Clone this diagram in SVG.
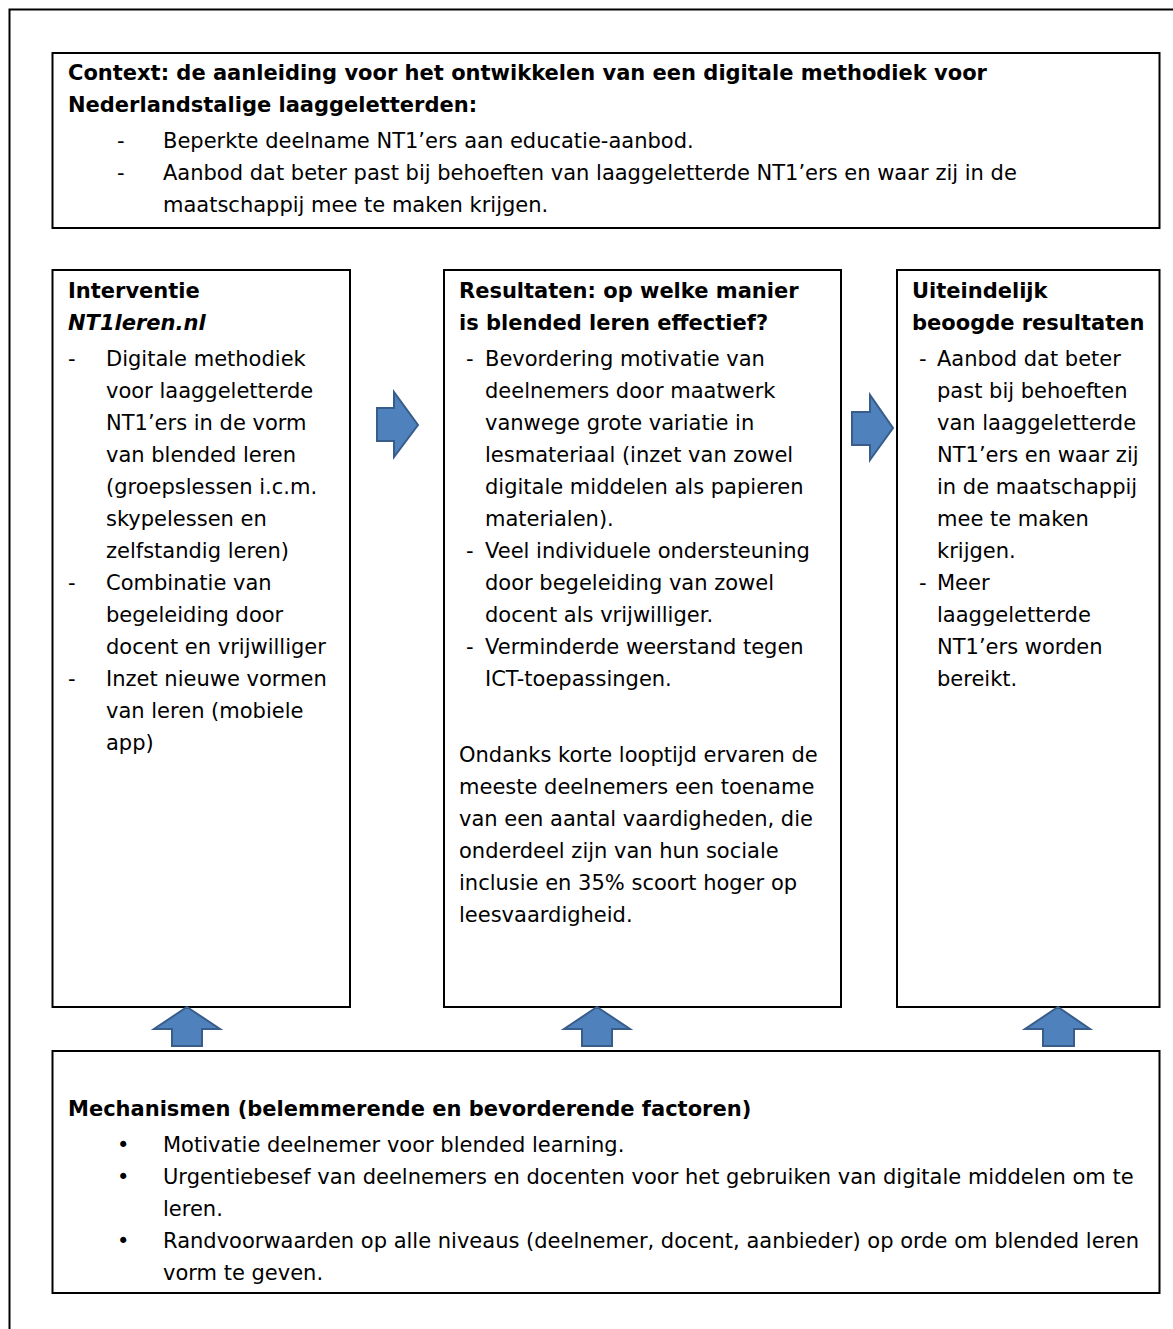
<svg xmlns="http://www.w3.org/2000/svg" width="1173" height="1329" viewBox="0 0 1173 1329">
<style>
text{font-family:"DejaVu Sans","Liberation Sans",sans-serif;font-size:21px;fill:#000}
.b{font-weight:bold}
.bi{font-weight:bold;font-style:italic}
.box{fill:#fff;stroke:#000;stroke-width:2}
.arr{fill:#4f81bd;stroke:#385d8a;stroke-width:2;stroke-linejoin:miter}
</style>
<rect x="0" y="0" width="1173" height="1329" fill="#fff"/>
<rect x="9.5" y="9.5" width="1180" height="1340" fill="none" stroke="#000" stroke-width="2"/>

<g id="context">
<rect class="box" x="52.5" y="53" width="1107" height="175"/>
<text class="b" x="68" y="80">Context: de aanleiding voor het ontwikkelen van een digitale methodiek voor</text>
<text class="b" x="68" y="112">Nederlandstalige laaggeletterden:</text>
<text x="117" y="148">-</text><text x="163" y="148">Beperkte deelname NT1’ers aan educatie-aanbod.</text>
<text x="117" y="180">-</text><text x="163" y="180">Aanbod dat beter past bij behoeften van laaggeletterde NT1’ers en waar zij in de</text>
<text x="163" y="212">maatschappij mee te maken krijgen.</text>
</g>

<g id="interventie">
<rect class="box" x="52.5" y="270" width="297.5" height="737"/>
<text class="b" x="68" y="298">Interventie</text>
<text class="bi" x="68" y="330">NT1leren.nl</text>
<text x="68" y="366">-</text><text x="106" y="366">Digitale methodiek</text>
<text x="106" y="398">voor laaggeletterde</text>
<text x="106" y="430">NT1’ers in de vorm</text>
<text x="106" y="462">van blended leren</text>
<text x="106" y="494">(groepslessen i.c.m.</text>
<text x="106" y="526">skypelessen en</text>
<text x="106" y="558">zelfstandig leren)</text>
<text x="68" y="590">-</text><text x="106" y="590">Combinatie van</text>
<text x="106" y="622">begeleiding door</text>
<text x="106" y="654">docent en vrijwilliger</text>
<text x="68" y="686">-</text><text x="106" y="686">Inzet nieuwe vormen</text>
<text x="106" y="718">van leren (mobiele</text>
<text x="106" y="750">app)</text>
</g>

<g id="resultaten">
<rect class="box" x="444" y="270" width="397" height="737"/>
<text class="b" x="459" y="298">Resultaten: op welke manier</text>
<text class="b" x="459" y="330">is blended leren effectief?</text>
<text x="466" y="366">-</text><text x="485" y="366">Bevordering motivatie van</text>
<text x="485" y="398">deelnemers door maatwerk</text>
<text x="485" y="430">vanwege grote variatie in</text>
<text x="485" y="462">lesmateriaal (inzet van zowel</text>
<text x="485" y="494">digitale middelen als papieren</text>
<text x="485" y="526">materialen).</text>
<text x="466" y="558">-</text><text x="485" y="558">Veel individuele ondersteuning</text>
<text x="485" y="590">door begeleiding van zowel</text>
<text x="485" y="622">docent als vrijwilliger.</text>
<text x="466" y="654">-</text><text x="485" y="654">Verminderde weerstand tegen</text>
<text x="485" y="686">ICT-toepassingen.</text>
<text x="459" y="762">Ondanks korte looptijd ervaren de</text>
<text x="459" y="794">meeste deelnemers een toename</text>
<text x="459" y="826">van een aantal vaardigheden, die</text>
<text x="459" y="858">onderdeel zijn van hun sociale</text>
<text x="459" y="890">inclusie en 35% scoort hoger op</text>
<text x="459" y="922">leesvaardigheid.</text>
</g>

<g id="uiteindelijk">
<rect class="box" x="897" y="270" width="262.5" height="737"/>
<text class="b" x="912" y="298">Uiteindelijk</text>
<text class="b" x="912" y="330">beoogde resultaten</text>
<text x="919" y="366">-</text><text x="937" y="366">Aanbod dat beter</text>
<text x="937" y="398">past bij behoeften</text>
<text x="937" y="430">van laaggeletterde</text>
<text x="937" y="462">NT1’ers en waar zij</text>
<text x="937" y="494">in de maatschappij</text>
<text x="937" y="526">mee te maken</text>
<text x="937" y="558">krijgen.</text>
<text x="919" y="590">-</text><text x="937" y="590">Meer</text>
<text x="937" y="622">laaggeletterde</text>
<text x="937" y="654">NT1’ers worden</text>
<text x="937" y="686">bereikt.</text>
</g>

<g id="mechanismen">
<rect class="box" x="52.5" y="1051" width="1107" height="242"/>
<text class="b" x="68" y="1116">Mechanismen (belemmerende en bevorderende factoren)</text>
<text x="117" y="1152">•</text><text x="163" y="1152">Motivatie deelnemer voor blended learning.</text>
<text x="117" y="1184">•</text><text x="163" y="1184">Urgentiebesef van deelnemers en docenten voor het gebruiken van digitale middelen om te</text>
<text x="163" y="1216">leren.</text>
<text x="117" y="1248">•</text><text x="163" y="1248">Randvoorwaarden op alle niveaus (deelnemer, docent, aanbieder) op orde om blended leren</text>
<text x="163" y="1280">vorm te geven.</text>
</g>

<g id="connectors">
<polygon class="arr" points="377,408 394,408 394,392 418,425 394,457 394,441 377,441"/>
<polygon class="arr" points="852,412 870,412 870,395 893,428 870,460 870,445 852,445"/>
<polygon class="arr" points="187,1007 220,1029 202,1029 202,1046 172,1046 172,1029 154,1029"/>
<polygon class="arr" points="597,1007 630,1029 612,1029 612,1046 582,1046 582,1029 564,1029"/>
<polygon class="arr" points="1058,1007 1090,1029 1074,1029 1074,1046 1043,1046 1043,1029 1025,1029"/>
</g>
</svg>
